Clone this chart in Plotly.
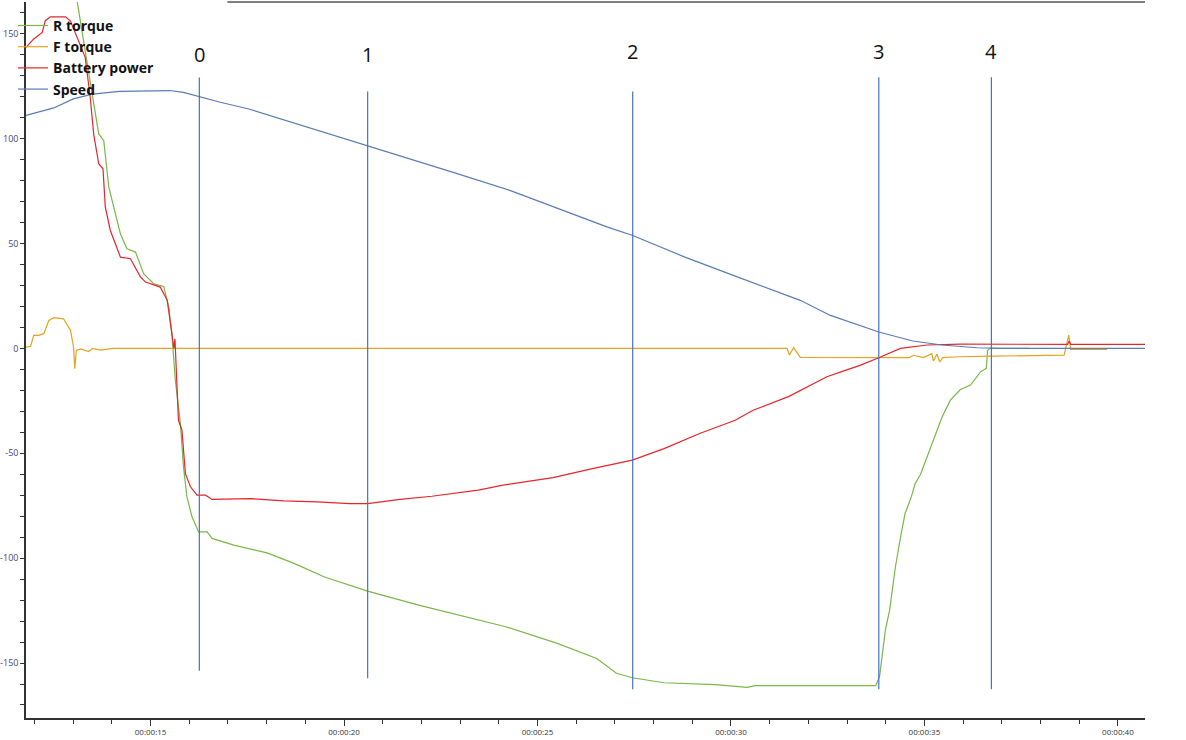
import plotly.graph_objects as go

# ── datos ───────────────────────────────────────────────────────────────────
speed_t = [11.78, 12.0, 12.5, 13.0, 13.5, 14.2, 15.0, 15.5, 15.85, 16.29, 16.54, 16.8,
           17.54, 18.79, 19.7, 20.61, 21.55, 22.8, 24.3, 25.55, 26.81, 27.46, 28.81,
           30.06, 31.32, 31.79, 32.57, 33.82, 34.7, 35.45, 36.36, 37.0, 40.7]
speed_v = [111.0, 112.0, 114.6, 118.9, 121.2, 122.5, 122.8, 122.9, 122.0, 119.8, 118.9, 117.3,
           114.1, 107.0, 101.8, 96.7, 91.1, 84.0, 75.2, 66.5, 57.8, 53.8, 43.5,
           34.8, 26.0, 22.9, 15.7, 7.8, 3.5, 1.6, 0.3, 0.0, 0.0]

rtorque_t = [12.95, 13.1, 13.49, 13.66, 13.79, 13.92, 14.22, 14.39, 14.61, 14.82, 15.08, 15.34,
             15.47, 15.55, 15.64, 15.77, 15.85, 15.94, 16.07, 16.24, 16.46, 16.59, 17.15,
             18.01, 18.61, 18.87, 19.48, 20.61, 21.93, 22.96, 24.18, 25.51, 26.53, 27.04,
             27.45, 28.27, 29.6, 30.42, 30.62, 32.15, 33.74, 33.84, 33.99, 34.1, 34.2,
             34.25, 34.4, 34.5, 34.66, 34.76, 34.9, 35.1, 35.3, 35.45, 35.67, 35.93,
             36.19, 36.45, 36.6, 36.63, 36.7, 37.7]
rtorque_v = [178.0, 165.7, 121.3, 102.2, 99.0, 76.8, 54.6, 47.5, 45.9, 35.6, 30.8, 29.5,
             19.7, 7.0, -15.2, -35.9, -56.5, -70.8, -80.3, -87.5, -87.5, -90.6, -93.8,
             -97.5, -101.8, -103.8, -108.9, -115.7, -122.4, -127.1, -132.7, -140.6, -147.8, -154.9,
             -157.0, -159.4, -160.3, -161.6, -160.8, -160.8, -160.8, -156.5, -134.3, -124.8, -110.5,
             -104.1, -88.2, -78.7, -70.8, -64.4, -60.0, -50.0, -40.0, -33.0, -24.7, -19.6,
             -17.5, -11.2, -9.5, -1.0, 0.0, 0.0]

ftorque_t = [11.78, 11.9, 11.98, 12.1, 12.24, 12.37, 12.5, 12.75, 12.93, 13.01, 13.04, 13.08,
             13.2, 13.4, 13.5, 13.7, 14.04, 31.45, 31.51, 31.62, 31.79, 34.6, 34.72, 34.98,
             35.19, 35.23, 35.32, 35.4, 35.47, 35.9, 36.76, 38.48, 38.61, 38.73, 38.78, 39.72]
ftorque_v = [0.6, 1.0, 6.2, 6.2, 7.0, 13.3, 14.6, 14.1, 8.6, 0.6, -9.7, -1.0,
             -0.3, -1.5, 0.0, -0.8, 0.0, 0.0, -3.2, 0.3, -4.3, -4.4, -3.3, -4.4,
             -2.5, -6.0, -2.8, -6.5, -4.4, -4.0, -3.7, -3.2, -3.2, 6.3, -0.5, -0.5]

battery_t = [11.78, 11.98, 12.2, 12.28, 12.41, 12.8, 12.93, 13.31, 13.44, 13.53, 13.66, 13.77,
             13.83, 13.96, 14.22, 14.48, 14.74, 14.87, 15.25, 15.43, 15.55, 15.6, 15.63, 15.66,
             15.72, 15.81, 15.9, 16.03, 16.2, 16.42, 16.59, 17.58, 18.44, 19.3, 20.16, 20.61,
             21.45, 22.27, 23.47, 24.11, 25.0, 25.4, 26.42, 27.45, 28.27, 29.19, 30.11, 30.57,
             31.5, 31.95, 32.48, 32.88, 33.35, 33.82, 34.38, 35.07, 35.93, 38.7, 38.74, 38.78, 40.7]
battery_v = [143.5, 147.5, 150.6, 156.2, 158.0, 158.0, 156.0, 138.7, 119.7, 102.0, 88.0, 85.6,
             67.3, 56.2, 43.5, 42.7, 34.0, 31.6, 29.2, 22.9, 7.0, 0.0, 4.5, -8.9,
             -34.3, -39.0, -59.7, -66.0, -70.0, -70.0, -72.0, -71.6, -72.7, -73.2, -74.0, -74.0,
             -72.0, -70.5, -67.6, -65.2, -62.9, -61.6, -57.3, -53.3, -47.8, -40.6, -34.3, -29.5,
             -22.9, -18.4, -13.5, -11.0, -8.0, -4.5, 0.0, 1.6, 2.0, 1.9, 3.5, 1.9, 1.9]

marker_labels = ["0", "1", "2", "3", "4"]
marker_t = [16.26, 20.61, 27.46, 33.82, 36.73]
marker_top = [129.1, 122.4, 122.4, 129.2, 129.2]
marker_bottom = [-153.7, -157.2, -162.5, -162.5, -162.5]
marker_text_y = [139.9, 139.9, 141.4, 141.4, 141.4]

x_tickvals = [15, 20, 25, 30, 35, 40]
x_ticktext = ["00:00:15", "00:00:20", "00:00:25", "00:00:30", "00:00:35", "00:00:40"]
y_tickvals = [-150, -100, -50, 0, 50, 100, 150]
y_ticktext = ["-150", "-100", "-50", "0", "50", "100", "150"]

C_RT = "#7ab648"
C_FT = "#e3a31d"
C_BAT = "#e3262b"
C_SPD = "#5a7bb5"
C_MARK = "#4472c4"

fig = go.Figure()
for name, t, v, c in [
    ("R torque", rtorque_t, rtorque_v, C_RT),
    ("F torque", ftorque_t, ftorque_v, C_FT),
    ("Battery power", battery_t, battery_v, C_BAT),
    ("Speed", speed_t, speed_v, C_SPD),
]:
    fig.add_trace(go.Scatter(x=t, y=v, mode="lines", name=name,
                             line=dict(color=c, width=1.2)))

# lineas verticales de los eventos 0-4
for lab, t, y0, y1, ty in zip(marker_labels, marker_t, marker_bottom, marker_top, marker_text_y):
    fig.add_shape(type="line", xref="x", yref="y", x0=t, x1=t, y0=y0, y1=y1,
                  line=dict(color=C_MARK, width=1.2))
    fig.add_annotation(x=t, y=ty, text=lab, showarrow=False,
                       font=dict(size=20, color="#111", family="Open Sans"))

# borde superior
fig.add_shape(type="line", xref="paper", yref="paper", x0=0.18, x1=1, y0=1, y1=1,
              line=dict(color="#555", width=1.5))

fig.update_layout(
    width=1186, height=740,
    margin=dict(l=26, r=41, t=2, b=22, autoexpand=False),
    paper_bgcolor="white", plot_bgcolor="white",
    font=dict(family="Open Sans", color="#333"),
    legend=dict(x=-0.0116, y=0.989, xanchor="left", yanchor="top",
                bgcolor="rgba(0,0,0,0)", font=dict(size=14, color="#111", weight="bold"),
                itemwidth=30, tracegroupgap=0),
    xaxis=dict(range=[11.78, 40.70], tickvals=x_tickvals, ticktext=x_ticktext,
               automargin=False,
               showgrid=False, zeroline=False, showline=True, linecolor="#333", linewidth=1.5,
               ticks="outside", ticklen=6, tickcolor="#333",
               tickfont=dict(size=8, color="#333"),
               minor=dict(dtick=1, tick0=0, ticks="outside", ticklen=4, tickcolor="#333")),
    yaxis=dict(range=[-176.2, 165.1], tickvals=y_tickvals, ticktext=y_ticktext,
               automargin=False,
               showgrid=False, zeroline=False, showline=True, linecolor="#333", linewidth=1.5,
               ticks="outside", ticklen=4, tickcolor="#333",
               tickfont=dict(size=9, color="#4a3f6b"),
               minor=dict(dtick=10, tick0=0, ticks="outside", ticklen=4, tickcolor="#333")),
)

# sin margen del body para que el grafico quede pegado a la esquina
fig.write_html("out.html", config={"displayModeBar": False},
               post_script="document.body.style.margin='0';")
